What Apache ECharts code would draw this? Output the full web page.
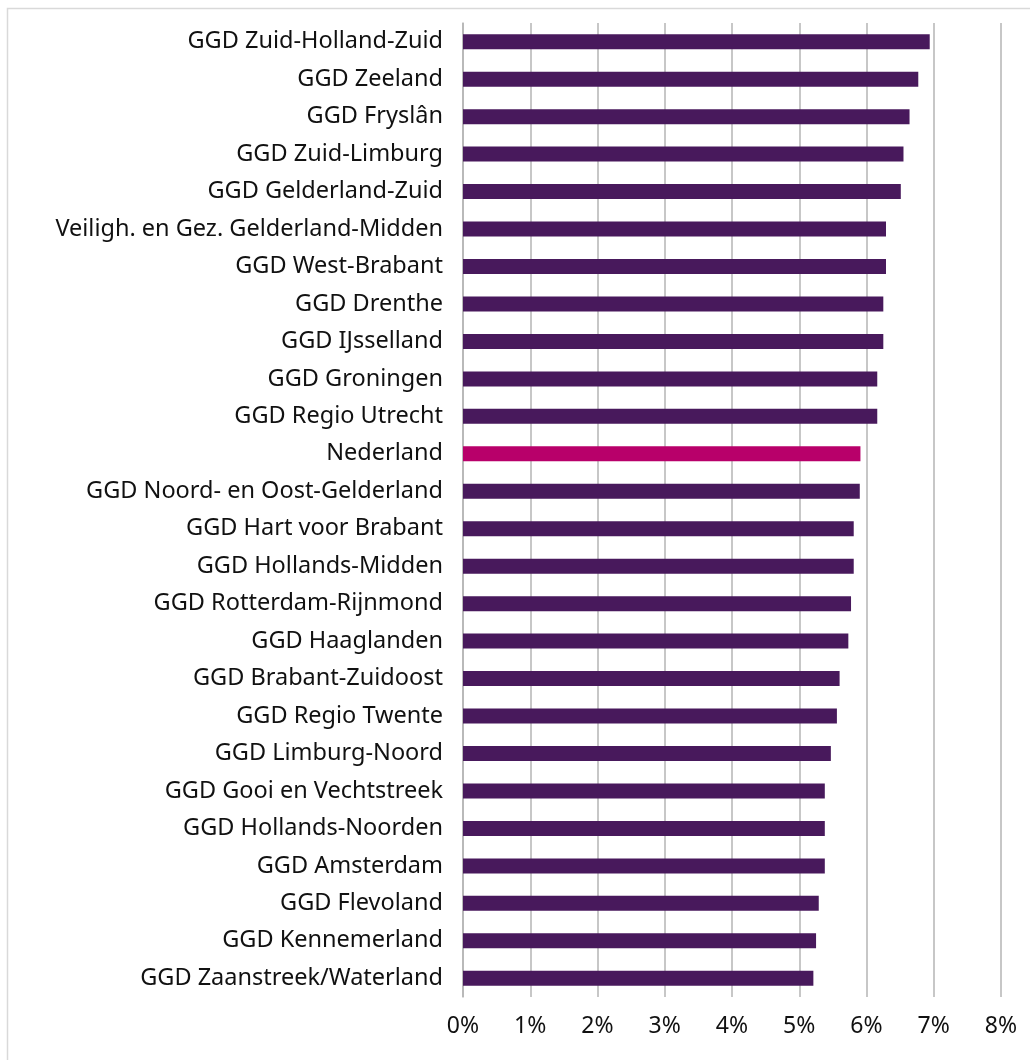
<!DOCTYPE html>
<html>
<head>
<meta charset="utf-8">
<script src="https://cdn.jsdelivr.net/npm/echarts@6/dist/echarts.min.js"></script>
<style>
  html, body { margin: 0; padding: 0; background: #fff; }
  #chart { width: 1030px; height: 1060px; }
</style>
</head>
<body>
<div id="chart"></div>
<script>
// regio's, van boven naar onder
const regions = [
  'GGD Zuid-Holland-Zuid',
  'GGD Zeeland',
  'GGD Fryslân',
  'GGD Zuid-Limburg',
  'GGD Gelderland-Zuid',
  'Veiligh. en Gez. Gelderland-Midden',
  'GGD West-Brabant',
  'GGD Drenthe',
  'GGD IJsselland',
  'GGD Groningen',
  'GGD Regio Utrecht',
  'Nederland',
  'GGD Noord- en Oost-Gelderland',
  'GGD Hart voor Brabant',
  'GGD Hollands-Midden',
  'GGD Rotterdam-Rijnmond',
  'GGD Haaglanden',
  'GGD Brabant-Zuidoost',
  'GGD Regio Twente',
  'GGD Limburg-Noord',
  'GGD Gooi en Vechtstreek',
  'GGD Hollands-Noorden',
  'GGD Amsterdam',
  'GGD Flevoland',
  'GGD Kennemerland',
  'GGD Zaanstreek/Waterland'
]
// percentages
const values = [
  6.94, 6.77, 6.64, 6.55, 6.51, 6.29, 6.29, 6.25, 6.25, 6.16, 6.16,
  5.91, 5.90, 5.81, 5.81, 5.77, 5.73, 5.60, 5.56, 5.47, 5.38, 5.38,
  5.38, 5.29, 5.25, 5.21
]
const xTicks = [0, 1, 2, 3, 4, 5, 6, 7, 8]

const chart = echarts.init(document.getElementById('chart'))

const option = {
  animation: false,
  textStyle: { fontFamily: 'Noto Sans' },
  graphic: [
    {
      type: 'rect',
      shape: { x: 7.5, y: 8.5, width: 1040, height: 1070 },
      style: { fill: 'none', stroke: '#d9d9d9', lineWidth: 1.5 },
      silent: true
    }
  ],
  grid: {
    left: 463,
    right: 29,
    top: 23,
    bottom: 63,
    containLabel: false
  },
  xAxis: {
    type: 'value',
    min: xTicks[0],
    max: xTicks[xTicks.length - 1],
    interval: 1,
    axisLine: { show: false },
    axisTick: { show: false },
    splitLine: { show: true, lineStyle: { color: '#b5b5b5', width: 1.5 } },
    axisLabel: {
      color: '#111',
      fontSize: 23,
      margin: 18,
      formatter: v => v + '%'
    }
  },
  yAxis: {
    type: 'category',
    data: regions,
    inverse: true,
    axisLine: { show: true, lineStyle: { color: '#b5b5b5', width: 1.5 } },
    axisTick: { show: false },
    axisLabel: { color: '#111', fontSize: 23.5, margin: 20 }
  },
  series: [
    {
      type: 'bar',
      barWidth: 15,
      data: values.map((v, i) => ({
        value: v,
        itemStyle: {
          color: regions[i] === 'Nederland' ? '#b8006a' : '#48195c'
        }
      }))
    }
  ]
}

chart.setOption(option)
</script>
</body>
</html>
